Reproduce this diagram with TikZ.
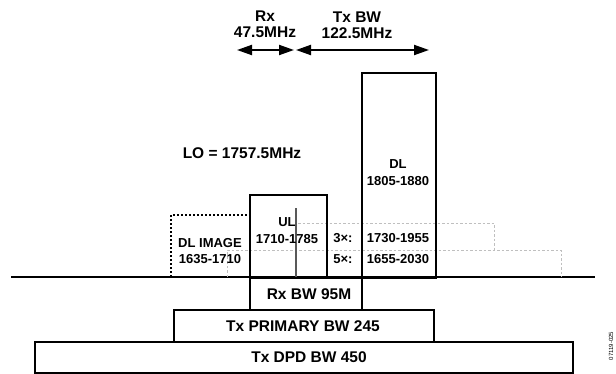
\documentclass[tikz,border=0pt]{standalone}
\usepackage{fontspec}
\setmainfont{Liberation Sans}
\usetikzlibrary{arrows.meta}
\begin{document}
\begin{tikzpicture}[x=1pt,y=-1pt,
 big/.style={font=\fontsize{15.5}{16}\selectfont\bfseries, align=center, inner sep=0pt},
 small/.style={font=\fontsize{13}{16.5}\selectfont\bfseries, align=center, inner sep=0pt},
 band/.style={draw=black, line width=1.6pt, inner sep=0pt, anchor=north west},
 guide/.style={draw=black!25, line width=1pt, dash pattern=on 2.5pt off 2pt},
 img/.style={draw=black, line width=1.5pt, dash pattern=on 2pt off 2pt},
 dim/.style={line width=2pt, {Triangle[length=15pt,width=10pt]}-{Triangle[length=15pt,width=10pt]}}
]
\useasboundingbox (0,0) rectangle (616,373);

% baseline
\coordinate (bl) at (11,277);
\coordinate (br) at (595,277);
\draw[line width=1.2pt] (bl) -- (br);

% gray guides
\draw[guide] (298,223) -- (494,223) -- (494,250);
\draw[guide] (227,277) -- (227,250) -- (561,250) -- (561,277);

% DL image dotted box
\draw[img] (171,277) -- (171,215) -- (249,215);

% bands
\node[band, minimum width=74pt, minimum height=205pt] (dl) at (361,72) {};
\node[band, minimum width=77pt, minimum height=83pt] (ul) at (249,194) {};
\node[band, minimum width=112pt, minimum height=32pt] (rxbw) at (249,277) {};
\node[band, minimum width=260pt, minimum height=32pt] (txp) at (173,309) {};
\node[band, minimum width=538pt, minimum height=31pt] (txd) at (34,341) {};

% LO line
\draw[draw=black!65, line width=1.5pt] (296,208) -- (296,277);

% arrows
\coordinate (rxa) at (237,50);
\coordinate (rxb) at (294,50);
\coordinate (txa) at (296,50);
\coordinate (txb) at (429,50);
\draw[dim] (rxa) -- (rxb);
\draw[dim] (txa) -- (txb);

% labels
\node[big] (lrx) at (265,24) {Rx\\47.5MHz};
\node[big] (ltx) at (357,25) {Tx BW\\122.5MHz};
\node[big] (llo) at (242,153) {LO = 1757.5MHz};
\node[small] (ldl) at (398,172.5) {DL\\1805-1880};
\node[small] (lul) at (287,230.5) {UL\\1710-1785};
\node[small] (lim) at (210,251) {DL IMAGE\\1635-1710};
\node[small] (l3) at (343,238) {3×:};
\node[small] (l5) at (343,259) {5×:};
\node[small] (l3r) at (398,238) {1730-1955};
\node[small] (l5r) at (398,259) {1655-2030};
\node[big] (lrxbw) at (309,294) {Rx BW 95M};
\node[big] (ltxp) at (303,326) {Tx PRIMARY BW 245};
\node[big] (ltxd) at (309,357) {Tx DPD BW 450};
\node[rotate=90, font=\fontsize{6}{7}\selectfont, inner sep=0pt] (fid) at (611,346) {07119-025};
\end{tikzpicture}
\end{document}
